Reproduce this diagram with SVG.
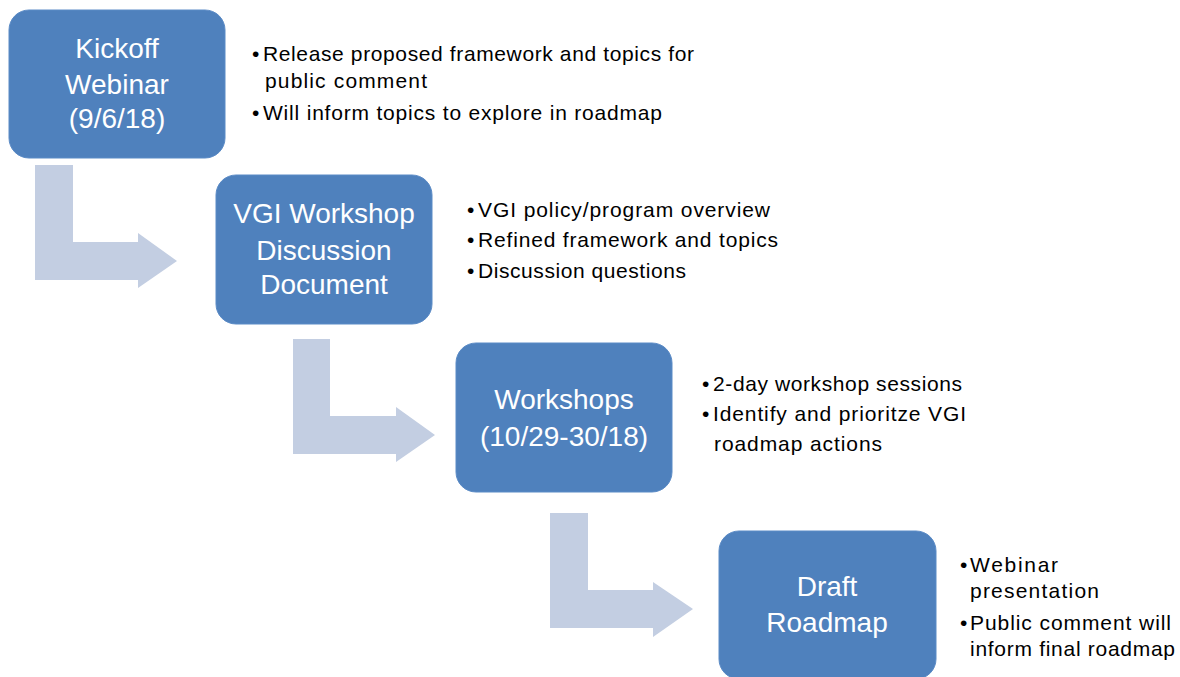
<svg xmlns="http://www.w3.org/2000/svg" width="1180" height="677" viewBox="0 0 1180 677">
<style>
.box{fill:#4F81BD;stroke:#5B8BC6;stroke-width:1}
.arrow{fill:#C3CEE2}
.bt{font-family:"Liberation Sans",Arial,sans-serif;font-size:28px;fill:#FFFFFF;text-anchor:middle}
.rt{font-family:"Liberation Sans",Arial,sans-serif;font-size:21px;fill:#000000}
</style>
<rect width="1180" height="677" fill="#FFFFFF"/>
<g id="connectors">
<polygon class="arrow" points="35,165 73,165 73,242 138,242 138,233 177,261 138,288 138,280 35,280"/>
<polygon class="arrow" points="293,339 330,339 330,416 396,416 396,407 435,435 396,462 396,454 293,454"/>
<polygon class="arrow" points="550,513 588,513 588,590 653,590 653,582 693,609 653,637 653,628 550,628"/>
</g>
<g id="node-kickoff">
<rect class="box" x="9" y="10" width="216" height="148" rx="20"/>
<text class="bt" x="117" y="58">Kickoff</text>
<text class="bt" x="117" y="94">Webinar</text>
<text class="bt" x="117" y="128">(9/6/18)</text>
<text class="rt" x="252" y="61">•</text>
<text class="rt" x="263" y="61" textLength="431" lengthAdjust="spacing">Release proposed framework and topics for</text>
<text class="rt" x="265" y="88" textLength="162" lengthAdjust="spacing">public comment</text>
<text class="rt" x="252" y="120">•</text>
<text class="rt" x="263" y="120" textLength="399" lengthAdjust="spacing">Will inform topics to explore in roadmap</text>
</g>
<g id="node-discussion">
<rect class="box" x="216" y="175" width="216" height="149" rx="20"/>
<text class="bt" x="324" y="223">VGI Workshop</text>
<text class="bt" x="324" y="260">Discussion</text>
<text class="bt" x="324" y="294">Document</text>
<text class="rt" x="467" y="217">•</text>
<text class="rt" x="478" y="217" textLength="292" lengthAdjust="spacing">VGI policy/program overview</text>
<text class="rt" x="467" y="247">•</text>
<text class="rt" x="478" y="247" textLength="300" lengthAdjust="spacing">Refined framework and topics</text>
<text class="rt" x="467" y="278">•</text>
<text class="rt" x="478" y="278" textLength="208" lengthAdjust="spacing">Discussion questions</text>
</g>
<g id="node-workshops">
<rect class="box" x="456" y="343" width="216" height="149" rx="20"/>
<text class="bt" x="564" y="409">Workshops</text>
<text class="bt" x="564" y="446">(10/29-30/18)</text>
<text class="rt" x="702" y="391">•</text>
<text class="rt" x="713" y="391" textLength="249" lengthAdjust="spacing">2-day workshop sessions</text>
<text class="rt" x="702" y="421">•</text>
<text class="rt" x="713" y="421" textLength="253" lengthAdjust="spacing">Identify and prioritze VGI</text>
<text class="rt" x="714" y="451" textLength="168" lengthAdjust="spacing">roadmap actions</text>
</g>
<g id="node-roadmap">
<rect class="box" x="719" y="531" width="217" height="148" rx="20"/>
<text class="bt" x="827" y="596">Draft</text>
<text class="bt" x="827" y="632">Roadmap</text>
<text class="rt" x="960" y="572">•</text>
<text class="rt" x="970" y="572" textLength="88" lengthAdjust="spacing">Webinar</text>
<text class="rt" x="970" y="598" textLength="129" lengthAdjust="spacing">presentation</text>
<text class="rt" x="960" y="630">•</text>
<text class="rt" x="970" y="630" textLength="201" lengthAdjust="spacing">Public comment will</text>
<text class="rt" x="970" y="656" textLength="205" lengthAdjust="spacing">inform final roadmap</text>
</g>
</svg>
